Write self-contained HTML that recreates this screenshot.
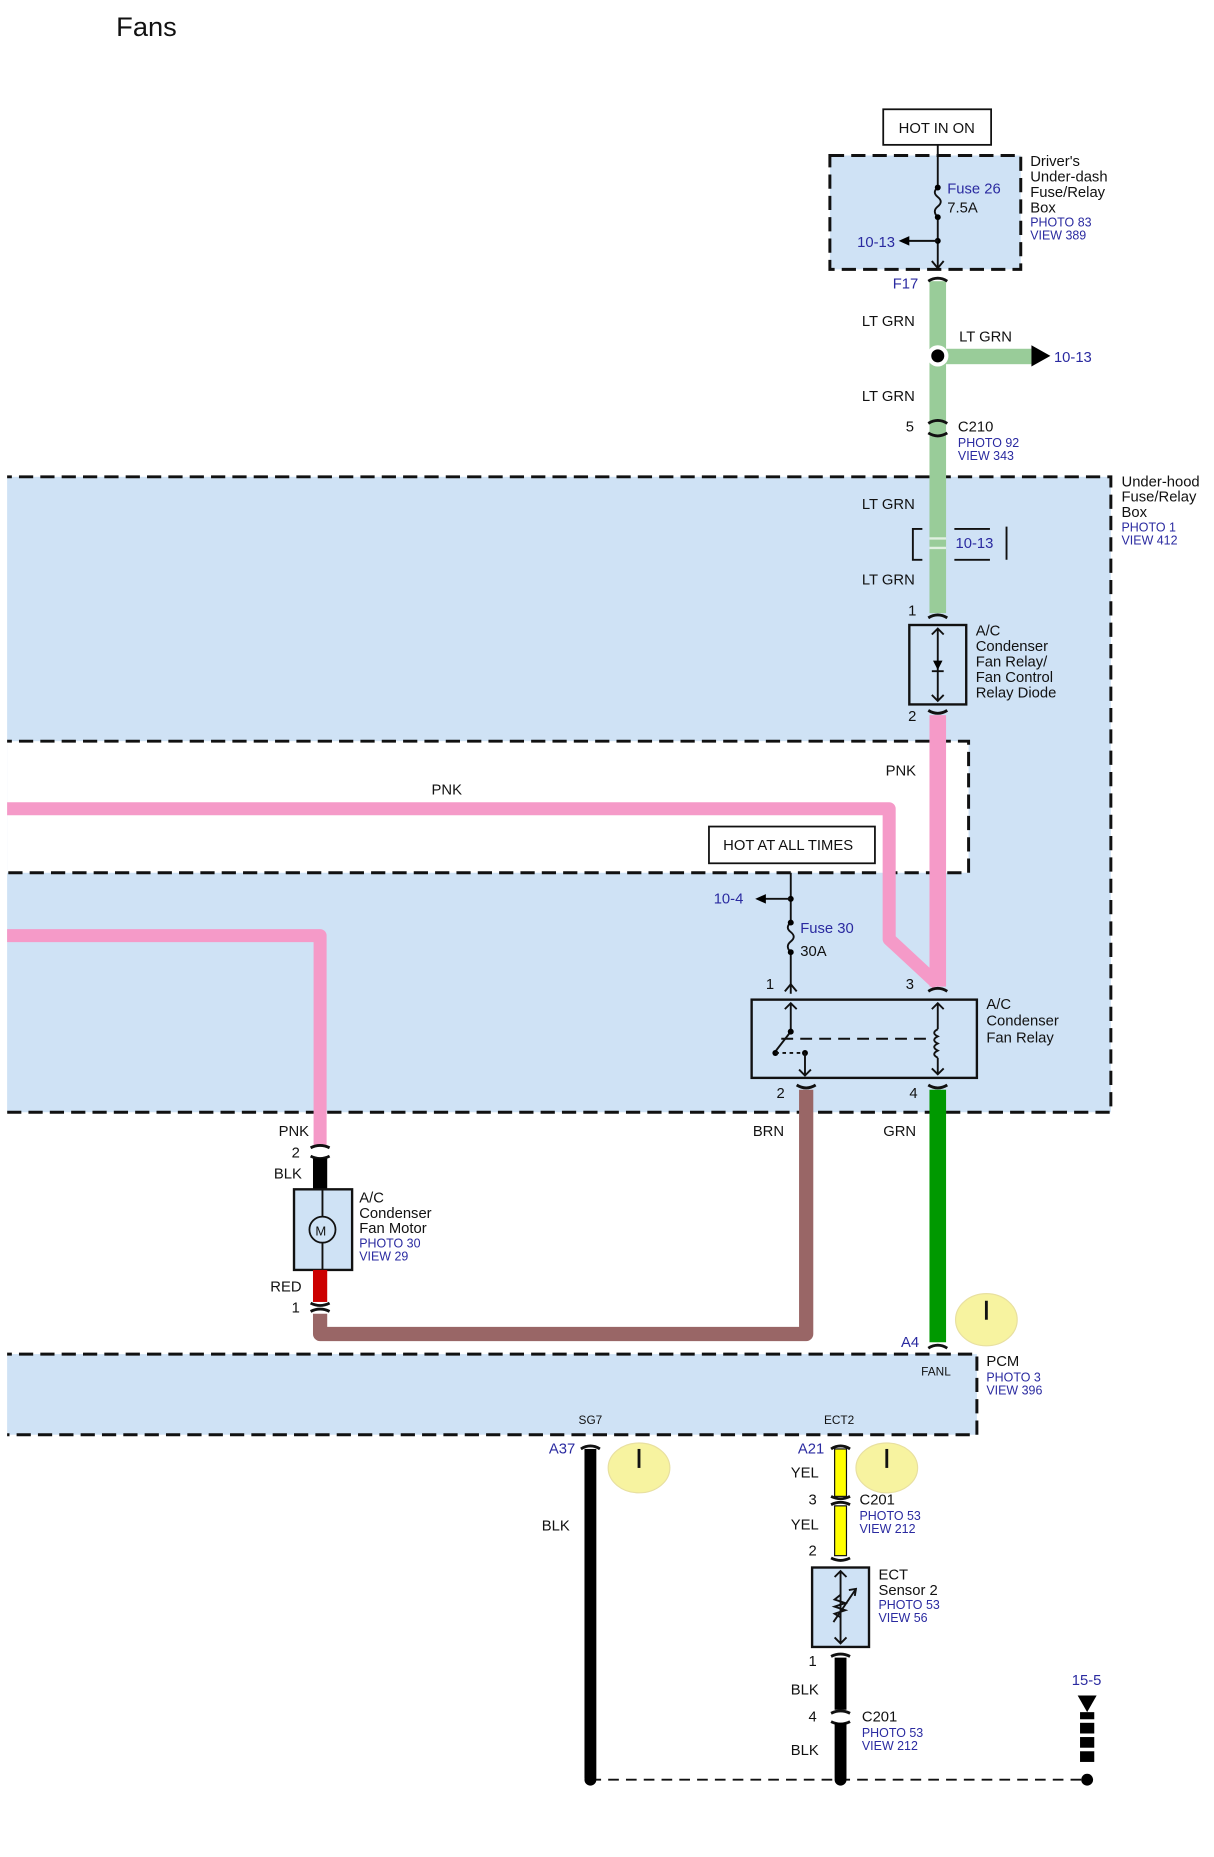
<!DOCTYPE html>
<html><head><meta charset="utf-8"><style>
html,body{margin:0;padding:0;background:#fff}
svg{display:block}
text{font-family:"Liberation Sans",sans-serif;font-size:12.5px;fill:#111}
.b{fill:#2a2aa0;font-size:12.5px}
.s{fill:#2a2aa0;font-size:10.5px}
.box{fill:#cfe2f5;stroke:#111;stroke-width:2.5;stroke-dasharray:12 6}
.k{fill:none;stroke:#111;stroke-width:1.6}
.c{fill:none;stroke:#111;stroke-width:2.4}
</style></head><body>
<svg width="1214" height="1857" viewBox="0 0 1024 1566" xmlns="http://www.w3.org/2000/svg">
<defs><clipPath id="cl"><rect x="6" y="0" width="1020" height="1566"/></clipPath></defs>
<text x="98" y="30" style="font-size:23px">Fans</text>

<g clip-path="url(#cl)">
<rect x="-20" y="402" width="957" height="536" class="box"/>
<rect x="-20" y="625" width="837" height="111" fill="#fff"/>
<path d="M-20 625 H817 V736 H-20" fill="none" stroke="#111" stroke-width="2.5" stroke-dasharray="12 6"/>
<rect x="-20" y="1142" width="844" height="68" class="box"/>
</g>
<text x="946" y="410">Under-hood</text><text x="946" y="423">Fuse/Relay</text><text x="946" y="436">Box</text>
<text x="946" y="448" class="s">PHOTO 1</text><text x="946" y="459" class="s">VIEW 412</text>

<!-- Driver's fuse box -->
<rect x="745" y="92" width="91" height="30" fill="#fff" stroke="#111" stroke-width="1.5"/>
<text x="758" y="112">HOT IN ON</text>
<rect x="700" y="131" width="161" height="96" class="box"/>
<path d="M791 122 V158 M791 183 V226" class="k"/>
<path d="M791 158 q-5 4 0 8 q5 4 0 8 q-5 4 0 9" class="k"/>
<circle cx="791" cy="158" r="2.5"/><circle cx="791" cy="183" r="2.5"/><circle cx="791" cy="203" r="2.5"/>
<path d="M791 203 H766" class="k"/><path d="M758 203 l9 -4 v8z"/>
<path d="M786 220 l5 6 l5 -6" class="k"/>
<text x="799" y="163" class="b">Fuse 26</text><text x="799" y="179">7.5A</text>
<text x="723" y="208" class="b">10-13</text>
<text x="869" y="140">Driver's</text><text x="869" y="153">Under-dash</text><text x="869" y="166">Fuse/Relay</text><text x="869" y="179">Box</text>
<text x="869" y="191" class="s">PHOTO 83</text><text x="869" y="202" class="s">VIEW 389</text>

<!-- LT GRN wire -->
<rect x="784" y="237" width="14" height="280" fill="#99cc99"/>
<rect x="798" y="294" width="72" height="13" fill="#99cc99"/>
<path d="M870 291 l16 9 l-16 9z"/>
<circle cx="791" cy="300" r="9" fill="#fff"/><circle cx="791" cy="300" r="5.5"/>
<path d="M783 237 q8 -5 16 0" class="c"/>
<text x="753" y="243" class="b">F17</text>
<text x="727" y="275">LT GRN</text><text x="809" y="288">LT GRN</text><text x="889" y="305" class="b">10-13</text>
<text x="727" y="338">LT GRN</text>
<path d="M783 357 q8 -5 16 0 M783 365 q8 5 16 0" class="c"/>
<text x="764" y="364">5</text><text x="808" y="364">C210</text>
<text x="808" y="377" class="s">PHOTO 92</text><text x="808" y="388" class="s">VIEW 343</text>
<text x="727" y="429">LT GRN</text>
<rect x="784" y="453" width="14" height="2" fill="#e0f0e0"/><rect x="784" y="461" width="14" height="2" fill="#e0f0e0"/>
<path d="M778 446 H770 V472 H778 M805 446 H835 M805 472 H835 M849 444 V472" class="k" stroke-width="1"/>
<text x="806" y="462" class="b">10-13</text>
<text x="727" y="493">LT GRN</text>
<path d="M783 521 q8 -5 16 0" class="c"/><text x="766" y="519">1</text>

<!-- Diode relay -->
<rect x="767" y="527" width="48" height="67" fill="none" stroke="#111" stroke-width="2"/>
<path d="M791 530 V591 M786 535 l5 -5 l5 5 M786 586 l5 5 l5 -5 M786 566 H796" class="k"/>
<path d="M787 557 h8 l-4 8z"/>
<text x="823" y="536">A/C</text><text x="823" y="549">Condenser</text><text x="823" y="562">Fan Relay/</text><text x="823" y="575">Fan Control</text><text x="823" y="588">Relay Diode</text>
<path d="M783 599 q8 5 16 0" class="c"/><text x="766" y="608">2</text>

<!-- Pink wires -->
<path d="M791 603 V832" stroke="#f59ac8" stroke-width="14" fill="none"/>
<path d="M6 682 H750 V792 L791 830" stroke="#f59ac8" stroke-width="11" fill="none" stroke-linejoin="round"/>
<text x="747" y="654">PNK</text><text x="364" y="670">PNK</text>
<path d="M6 789 H270 V966" stroke="#f59ac8" stroke-width="11" fill="none" stroke-linejoin="round"/>

<!-- HOT AT ALL TIMES -->
<rect x="598" y="697" width="140" height="31" fill="#fff" stroke="#111" stroke-width="1.5"/>
<text x="610" y="717">HOT AT ALL TIMES</text>
<path d="M667 736 V778 M667 803 V838" class="k"/>
<path d="M667 778 q-5 4 0 8 q5 4 0 8 q-5 4 0 9" class="k"/>
<circle cx="667" cy="758" r="2.5"/><circle cx="667" cy="778" r="2.5"/><circle cx="667" cy="803" r="2.5"/>
<path d="M667 758 H645" class="k"/><path d="M637 758 l9 -4 v8z"/>
<text x="602" y="762" class="b">10-4</text>
<text x="675" y="787" class="b">Fuse 30</text><text x="675" y="806">30A</text>
<path d="M662 836 l5 -6 l5 6" class="k"/><text x="646" y="834">1</text>
<path d="M783 836 q8 -5 16 0" class="c"/><text x="764" y="834">3</text>

<!-- Fan relay -->
<rect x="634" y="843" width="190" height="66" fill="none" stroke="#111" stroke-width="2"/>
<path d="M667 846 V870 L653 888 M662 851 l5 -5 l5 5" class="k"/>
<circle cx="667" cy="870" r="2.5"/><circle cx="654" cy="888" r="2.5"/><circle cx="679" cy="888" r="2.5"/>
<path d="M679 888 V907 M674 902 l5 5 l5 -5" class="k"/>
<path d="M654 888 H679" class="k" stroke-dasharray="3 3"/>
<path d="M659 876 H785" class="k" stroke-dasharray="10 6"/>
<path d="M791 846 V868 M791 892 V906 M786 851 l5 -5 l5 5 M786 901 l5 5 l5 -5" class="k"/>
<path d="M791 868 q-6 3 0 6 q-6 3 0 6 q-6 3 0 6 q-6 3 0 6" class="k"/>
<text x="832" y="851">A/C</text><text x="832" y="865">Condenser</text><text x="832" y="879">Fan Relay</text>
<path d="M672 915 q8 5 16 0 M783 915 q8 5 16 0" class="c"/>
<text x="655" y="926">2</text><text x="767" y="926">4</text>

<!-- BRN and GRN -->
<path d="M680 919 V1125 H270 V1108" stroke="#996666" stroke-width="12" fill="none" stroke-linejoin="round"/>
<rect x="784" y="919" width="14" height="213" fill="#009900"/>
<text x="635" y="958">BRN</text><text x="745" y="958">GRN</text>

<!-- Motor -->
<text x="235" y="958">PNK</text><text x="246" y="976">2</text>
<path d="M262 968 q8 -4 16 0 M262 975 q8 4 16 0" class="c"/>
<rect x="264" y="977" width="12" height="26" fill="#000"/>
<text x="231" y="994">BLK</text>
<rect x="248" y="1003" width="49" height="68" fill="#cfe2f5" stroke="#111" stroke-width="2"/>
<path d="M272 1003 V1071" class="k" stroke-width="1"/>
<circle cx="272" cy="1037" r="11" fill="#cfe2f5" stroke="#111" stroke-width="1.5"/>
<text x="266" y="1042" style="font-size:11px">M</text>
<rect x="264" y="1071" width="12" height="27" fill="#cc0000"/>
<text x="228" y="1089">RED</text><text x="246" y="1107">1</text>
<path d="M262 1099 q8 4 16 0 M262 1106 q8 -4 16 0" class="c"/>
<text x="303" y="1014">A/C</text><text x="303" y="1027">Condenser</text><text x="303" y="1040">Fan Motor</text>
<text x="303" y="1052" class="s">PHOTO 30</text><text x="303" y="1063" class="s">VIEW 29</text>

<!-- PCM -->
<ellipse cx="832" cy="1113" rx="26" ry="22" fill="#f7f3a0" stroke="#e8e0a0"/>
<path d="M832 1097 V1113" class="c"/>
<path d="M783 1137 q8 -5 16 0" class="c"/>
<text x="760" y="1136" class="b">A4</text>
<text x="777" y="1160" style="font-size:10px">FANL</text>
<text x="488" y="1201" style="font-size:10px">SG7</text><text x="695" y="1201" style="font-size:10px">ECT2</text>
<text x="832" y="1152">PCM</text><text x="832" y="1165" class="s">PHOTO 3</text><text x="832" y="1176" class="s">VIEW 396</text>

<!-- SG7 -->
<path d="M490 1222 q8 -5 16 0" class="c"/>
<rect x="493" y="1222" width="10" height="278" fill="#000"/>
<text x="463" y="1226" class="b">A37</text>
<ellipse cx="539" cy="1238" rx="26" ry="21" fill="#f7f3a0" stroke="#e8e0a0"/>
<path d="M539 1222 V1238" class="c"/>
<text x="457" y="1291">BLK</text>

<!-- ECT -->
<path d="M701 1222 q8 -5 16 0" class="c"/>
<rect x="704" y="1222" width="10" height="40" fill="#ffff00" stroke="#111" stroke-width="1"/>
<text x="673" y="1226" class="b">A21</text>
<ellipse cx="748" cy="1238" rx="26" ry="21" fill="#f7f3a0" stroke="#e8e0a0"/>
<path d="M748 1222 V1238" class="c"/>
<text x="667" y="1246">YEL</text>
<path d="M701 1262 q8 4 16 0 M701 1269 q8 -4 16 0" class="c"/>
<text x="682" y="1269">3</text><text x="725" y="1269">C201</text>
<text x="725" y="1282" class="s">PHOTO 53</text><text x="725" y="1293" class="s">VIEW 212</text>
<rect x="704" y="1270" width="10" height="42" fill="#ffff00" stroke="#111" stroke-width="1"/>
<text x="667" y="1290">YEL</text><text x="682" y="1312">2</text>
<path d="M701 1314 q8 4 16 0" class="c"/>
<rect x="685" y="1322" width="48" height="67" fill="#cfe2f5" stroke="#111" stroke-width="2"/>
<path d="M709 1325 V1386 M704 1330 l5 -5 l5 5 M704 1381 l5 5 l5 -5" class="k"/>
<path d="M709 1345 l-5 4 l9 3 l-9 3 l9 3 l-9 3 l5 3 M703 1368 L722 1340 M716 1341 l6 -1 l-1 6" class="k" fill="#cfe2f5"/>
<text x="741" y="1332">ECT</text><text x="741" y="1345">Sensor 2</text>
<text x="741" y="1357" class="s">PHOTO 53</text><text x="741" y="1368" class="s">VIEW 56</text>
<path d="M701 1397 q8 -4 16 0" class="c"/><text x="682" y="1405">1</text>
<rect x="704" y="1398" width="10" height="44" fill="#000"/>
<text x="667" y="1429">BLK</text>
<path d="M701 1445 q8 -4 16 0 M701 1452 q8 4 16 0" class="c"/>
<text x="682" y="1452">4</text><text x="727" y="1452">C201</text>
<text x="727" y="1465" class="s">PHOTO 53</text><text x="727" y="1476" class="s">VIEW 212</text>
<rect x="704" y="1453" width="10" height="47" fill="#000"/>
<text x="667" y="1480">BLK</text>

<!-- Ground -->
<path d="M498 1501 H917" fill="none" stroke="#111" stroke-width="1.6" stroke-dasharray="9 6"/>
<circle cx="498" cy="1501" r="5"/><circle cx="709" cy="1501" r="5"/><circle cx="917" cy="1501" r="5"/>
<text x="904" y="1421" class="b">15-5</text>
<path d="M909 1430 h16 l-8 14z"/>
<rect x="911" y="1444" width="12" height="6"/><rect x="911" y="1453" width="12" height="9"/><rect x="911" y="1465" width="12" height="9"/><rect x="911" y="1477" width="12" height="9"/>
</svg>
</body></html>
